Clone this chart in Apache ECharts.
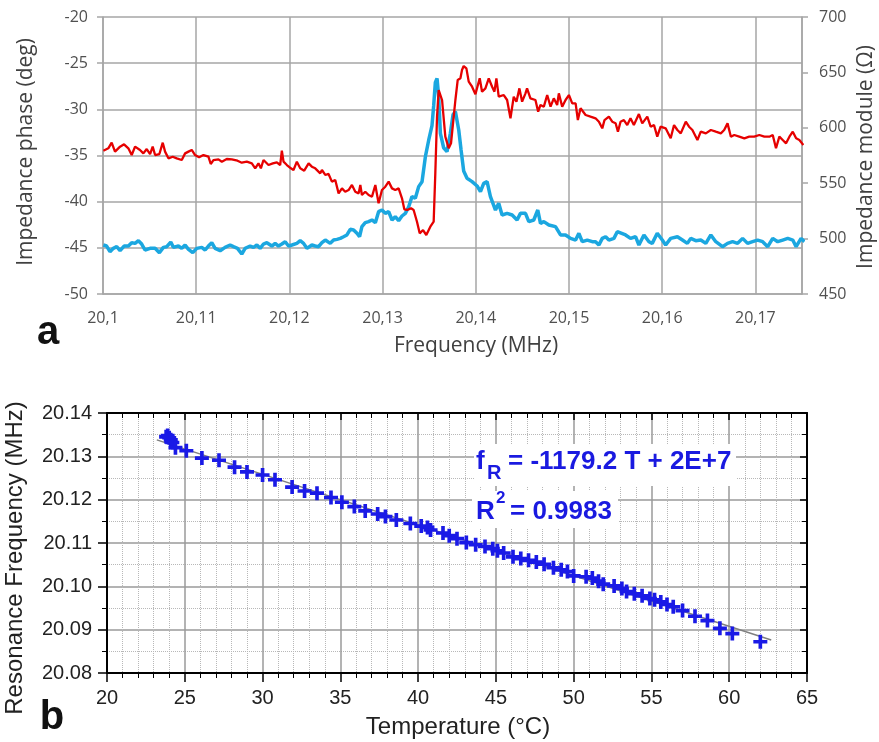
<!DOCTYPE html>
<html><head><meta charset="utf-8">
<script src="https://cdn.jsdelivr.net/npm/echarts@6/dist/echarts.min.js"></script>
<style>html,body{margin:0;padding:0;background:#fff}#c{width:879px;height:742px}</style>
</head><body><div id="c"></div>
<script>
// ---- Panel a: impedance phase (red, left axis) ----
const redFreq = [20.10004,20.10057,20.10093,20.10129,20.10183,20.10226,20.10272,20.10308,20.10344,20.10397,20.10433,20.10469,20.10505,20.10533,20.10559,20.10605,20.10641,20.10666,20.10702,20.10748,20.10791,20.10845,20.10881,20.10917,20.10952,20.10988,20.11031,20.11078,20.11131,20.11156,20.11185,20.11239,20.11275,20.11328,20.11382,20.11443,20.11489,20.11543,20.11597,20.11633,20.11668,20.11694,20.11722,20.11776,20.11822,20.11865,20.11901,20.11919,20.11937,20.11973,20.12016,20.12044,20.12080,20.12116,20.12159,20.12206,20.12241,20.12277,20.12331,20.12349,20.12385,20.12420,20.12456,20.12492,20.12528,20.12564,20.12599,20.12635,20.12671,20.12707,20.12743,20.12761,20.12778,20.12814,20.12850,20.12886,20.12922,20.12957,20.12993,20.13029,20.13065,20.13101,20.13136,20.13172,20.13208,20.13233,20.13262,20.13305,20.13333,20.13369,20.13398,20.13434,20.13469,20.13512,20.13548,20.13566,20.13584,20.13602,20.13620,20.13638,20.13673,20.13709,20.13734,20.13763,20.13781,20.13806,20.13835,20.13852,20.13870,20.13899,20.13924,20.13960,20.13996,20.14042,20.14067,20.14103,20.14139,20.14175,20.14200,20.14221,20.14246,20.14300,20.14336,20.14372,20.14407,20.14436,20.14468,20.14497,20.14533,20.14550,20.14586,20.14640,20.14669,20.14694,20.14730,20.14766,20.14802,20.14837,20.14873,20.14891,20.14927,20.14963,20.14999,20.15035,20.15071,20.15095,20.15124,20.15178,20.15231,20.15285,20.15321,20.15357,20.15381,20.15428,20.15464,20.15500,20.15525,20.15553,20.15589,20.15625,20.15660,20.15696,20.15750,20.15786,20.15840,20.15876,20.15912,20.15947,20.15983,20.16037,20.16091,20.16127,20.16163,20.16199,20.16253,20.16288,20.16324,20.16378,20.16414,20.16468,20.16522,20.16575,20.16629,20.16665,20.16701,20.16737,20.16773,20.16827,20.16881,20.16934,20.16988,20.17042,20.17096,20.17150,20.17186,20.17221,20.17257,20.17293,20.17329,20.17365,20.17401,20.17437,20.17472,20.17515];
const redPhase = [-34.48,-34.22,-33.61,-34.58,-34.04,-33.79,-34.22,-34.95,-34.04,-34.40,-34.77,-34.30,-34.84,-34.04,-34.95,-34.84,-33.61,-34.58,-35.31,-35.13,-35.31,-35.49,-34.77,-34.58,-34.40,-34.95,-35.20,-34.95,-35.13,-35.92,-35.49,-35.42,-35.67,-35.38,-35.42,-35.56,-35.78,-35.67,-35.85,-36.39,-35.85,-36.39,-35.49,-36.03,-35.85,-35.74,-36.03,-34.48,-35.67,-36.03,-36.39,-36.57,-35.67,-36.39,-36.64,-35.85,-36.21,-36.39,-36.93,-36.57,-37.11,-37.00,-37.83,-37.65,-39.10,-38.56,-38.92,-38.74,-38.19,-38.92,-39.10,-38.19,-39.28,-38.92,-39.28,-39.46,-38.19,-40.18,-38.74,-38.38,-37.83,-38.56,-38.74,-38.56,-39.64,-40.83,-40.90,-40.72,-40.90,-42.17,-43.43,-43.07,-43.61,-42.71,-42.17,-36.80,-30.80,-27.91,-27.73,-28.99,-32.96,-34.22,-33.68,-30.79,-28.99,-26.82,-26.64,-25.74,-25.31,-25.56,-27.00,-27.55,-28.36,-26.64,-28.09,-27.73,-26.64,-27.55,-28.09,-26.64,-28.63,-28.45,-28.99,-30.97,-28.63,-29.17,-27.73,-29.17,-28.27,-27.73,-28.81,-28.99,-30.25,-29.53,-29.71,-28.45,-29.71,-28.81,-29.53,-28.27,-29.71,-28.99,-28.45,-29.35,-29.35,-31.16,-29.89,-30.61,-30.79,-30.97,-31.34,-32.06,-31.16,-30.79,-31.34,-31.50,-32.42,-31.34,-31.16,-31.70,-30.97,-31.70,-30.51,-31.52,-30.79,-31.88,-31.70,-32.96,-31.88,-32.06,-33.14,-31.70,-32.24,-32.60,-31.34,-31.88,-32.24,-33.32,-32.42,-32.60,-32.24,-32.42,-32.60,-32.24,-31.52,-32.96,-32.78,-32.96,-33.14,-32.96,-32.96,-32.78,-32.96,-32.96,-32.78,-34.22,-32.96,-33.32,-33.68,-32.96,-32.42,-33.14,-33.32,-33.86];

// ---- Panel a: impedance module (blue, right axis) ----
const blueFreq = [20.10004,20.10039,20.10075,20.10111,20.10147,20.10183,20.10226,20.10272,20.10308,20.10344,20.10380,20.10415,20.10451,20.10505,20.10559,20.10605,20.10648,20.10684,20.10727,20.10755,20.10809,20.10845,20.10881,20.10917,20.10963,20.11006,20.11060,20.11096,20.11131,20.11167,20.11203,20.11257,20.11310,20.11364,20.11400,20.11443,20.11489,20.11525,20.11579,20.11615,20.11651,20.11686,20.11722,20.11758,20.11812,20.11847,20.11883,20.11919,20.11955,20.11991,20.12027,20.12080,20.12116,20.12152,20.12188,20.12241,20.12277,20.12313,20.12349,20.12385,20.12438,20.12474,20.12510,20.12546,20.12581,20.12617,20.12653,20.12689,20.12725,20.12753,20.12778,20.12814,20.12850,20.12886,20.12922,20.12957,20.12993,20.13029,20.13065,20.13101,20.13136,20.13172,20.13208,20.13244,20.13280,20.13315,20.13351,20.13387,20.13423,20.13459,20.13495,20.13530,20.13548,20.13566,20.13584,20.13602,20.13620,20.13655,20.13691,20.13727,20.13756,20.13781,20.13817,20.13842,20.13870,20.13906,20.13960,20.14014,20.14050,20.14085,20.14121,20.14157,20.14211,20.14246,20.14282,20.14336,20.14390,20.14443,20.14479,20.14533,20.14569,20.14622,20.14665,20.14694,20.14730,20.14784,20.14855,20.14909,20.14963,20.15017,20.15071,20.15106,20.15142,20.15196,20.15250,20.15285,20.15321,20.15357,20.15393,20.15428,20.15482,20.15518,20.15607,20.15660,20.15714,20.15750,20.15804,20.15858,20.15893,20.15947,20.16001,20.16037,20.16091,20.16163,20.16217,20.16270,20.16306,20.16360,20.16414,20.16468,20.16522,20.16575,20.16647,20.16701,20.16755,20.16809,20.16863,20.16916,20.16970,20.17024,20.17078,20.17132,20.17186,20.17239,20.17293,20.17347,20.17401,20.17437,20.17490,20.17526];
const blueModule = [494.2,493.3,488.2,491.2,492.7,489.1,493.3,493.3,496.3,495.7,498.1,495.1,489.7,491.2,491.2,487.3,492.1,492.7,496.9,492.1,493.3,491.2,494.2,490.3,487.3,491.2,492.1,489.7,493.3,496.3,491.2,489.1,492.1,494.2,492.7,491.2,486.1,491.2,493.3,492.1,494.2,491.2,495.1,496.3,493.3,495.7,493.3,495.1,497.2,493.3,494.2,495.7,498.1,495.7,491.2,494.2,493.3,492.7,496.3,498.7,495.7,498.7,499.3,500.2,501.7,503.3,508.4,507.8,504.8,501.7,510.8,514.4,515.3,516.8,514.4,524.3,525.8,522.8,524.3,516.8,519.8,516.2,520.4,522.8,528.8,537.9,536.4,546.9,551.4,573.9,589.0,602.0,620.0,641.0,644.6,628.0,595.0,582.0,578.5,595.0,612.0,614.6,598.0,580.0,561.0,554.4,551.4,547.5,542.4,549.9,551.4,537.9,525.8,531.9,521.3,522.8,521.3,516.8,522.8,522.8,515.3,516.8,525.8,513.8,515.3,512.3,510.8,503.3,503.3,500.2,498.7,504.8,497.2,498.7,497.2,497.2,494.2,500.2,501.7,498.7,500.2,506.2,503.3,500.2,501.7,494.2,503.3,497.2,495.7,504.8,498.7,494.2,500.2,501.7,498.7,495.7,500.2,498.1,498.7,495.7,503.3,497.2,492.7,495.7,497.2,495.7,500.2,495.7,497.2,498.7,497.2,492.7,500.2,497.2,498.7,500.2,498.7,492.7,500.2,497.2];

// ---- Panel b: resonance frequency vs temperature ----
const tempC = [23.8,23.9,24.0,24.1,24.2,24.4,25.1,26.1,27.2,28.2,29.0,30.0,30.8,31.9,32.7,33.5,34.4,35.1,35.9,36.6,37.4,37.9,38.6,39.5,40.2,40.6,40.8,41.6,42.0,42.5,43.1,43.7,44.3,44.8,45.1,45.5,46.1,46.6,47.1,47.6,48.1,48.7,49.2,49.6,50.0,50.8,51.2,51.6,51.9,52.6,53.1,53.4,53.9,54.4,54.9,55.2,55.6,56.0,56.4,57.0,57.8,58.6,59.4,60.2,62.0];
const resFreq = [20.1345,20.1348,20.1343,20.1338,20.1332,20.1320,20.1313,20.1296,20.1291,20.1275,20.1264,20.1257,20.1246,20.1229,20.1220,20.1215,20.1205,20.1194,20.1184,20.1174,20.1167,20.1161,20.1153,20.1145,20.1139,20.1136,20.1130,20.1123,20.1117,20.1110,20.1101,20.1096,20.1092,20.1087,20.1082,20.1077,20.1068,20.1064,20.1060,20.1056,20.1051,20.1043,20.1038,20.1034,20.1024,20.1022,20.1019,20.1012,20.1005,20.1001,20.0995,20.0988,20.0983,20.0978,20.0972,20.0969,20.0964,20.0958,20.0953,20.0944,20.0931,20.0921,20.0903,20.0891,20.0872];
const fitTemp = [23.2, 62.7];
const fitFreq = [20.1338, 20.0876];

const FT = "'Open Sans', sans-serif";
const FB = "'Liberation Sans', Arial, sans-serif";
const GC = '#a6a6a6';
const BLK = '#000';
const zip = (a, b) => a.map((v, i) => [v, b[i]]);

const chart = echarts.init(document.getElementById('c'), null, {renderer: 'canvas'});
const topLabelFmt = v => {
  const k = v / 0.01;
  if (Math.abs(k - Math.round(k)) > 1e-6) return '';
  return Number(v.toFixed(2)).toString().replace('.', ',');
};
const plus = 'path://M3.7,0H6.3V3.7H10V6.3H6.3V10H3.7V6.3H0V3.7H3.7Z';

const option = {
  animation: false,
  backgroundColor: '#fff',
  grid: [
    {left: 103, top: 17, width: 699, height: 277},
    {left: 107, top: 413, width: 700, height: 260}
  ],
  xAxis: [
    {gridIndex: 0, type: 'value', min: 20.1, max: 20.175, interval: 0.01,
     axisLine: {show: true, lineStyle: {color: GC, width: 1.5}},
     axisTick: {show: false},
     splitLine: {show: true, lineStyle: {color: GC, width: 1.5}},
     axisLabel: {formatter: topLabelFmt, showMaxLabel: false, color: '#505050', fontFamily: FT, fontSize: 16, margin: 16}},
    {gridIndex: 1, type: 'value', min: 20, max: 65, interval: 5,
     axisLine: {show: true, lineStyle: {color: BLK, width: 2}},
     axisTick: {show: true, inside: false, length: 9, lineStyle: {color: BLK, width: 1.5}},
     minorTick: {show: true, splitNumber: 5, length: 5, lineStyle: {color: BLK, width: 1}},
     splitLine: {show: true, lineStyle: {color: '#9a9a9a', width: 1.5}},
     minorSplitLine: {show: true, lineStyle: {color: '#b8b8b8', width: 1, type: 'dotted'}},
     axisLabel: {color: '#222', fontFamily: FB, fontSize: 20, margin: 15}},
    {gridIndex: 1, type: 'value', position: 'top', min: 20, max: 65, interval: 5,
     axisLine: {show: true, lineStyle: {color: BLK, width: 2}},
     axisTick: {show: true, inside: true, length: 7, lineStyle: {color: BLK, width: 1.5}},
     minorTick: {show: true, splitNumber: 5, length: 5, lineStyle: {color: BLK, width: 1}},
     splitLine: {show: false}, axisLabel: {show: false}}
  ],
  yAxis: [
    {gridIndex: 0, type: 'value', min: -50, max: -20, interval: 5,
     axisLine: {show: true, lineStyle: {color: GC, width: 1.5}},
     axisTick: {show: true, length: 6, lineStyle: {color: GC, width: 1.5}},
     splitLine: {show: true, lineStyle: {color: GC, width: 1.5}},
     axisLabel: {color: '#505050', fontFamily: FT, fontSize: 16, margin: 15}},
    {gridIndex: 0, type: 'value', position: 'right', min: 450, max: 700, interval: 50,
     axisLine: {show: true, lineStyle: {color: GC, width: 1.5}},
     axisTick: {show: true, length: 6, lineStyle: {color: GC, width: 1.5}},
     splitLine: {show: false},
     axisLabel: {color: '#505050', fontFamily: FT, fontSize: 16, margin: 17}},
    {gridIndex: 1, type: 'value', min: 20.08, max: 20.14, interval: 0.01,
     axisLine: {show: true, lineStyle: {color: BLK, width: 2}},
     axisTick: {show: true, inside: false, length: 9, lineStyle: {color: BLK, width: 1.5}},
     minorTick: {show: true, splitNumber: 2, length: 5, lineStyle: {color: BLK, width: 1}},
     splitLine: {show: true, lineStyle: {color: '#9a9a9a', width: 1.5}},
     minorSplitLine: {show: true, lineStyle: {color: '#b8b8b8', width: 1, type: 'dotted'}},
     axisLabel: {formatter: v => v.toFixed(2), color: '#222', fontFamily: FB, fontSize: 20, margin: 15}},
    {gridIndex: 1, type: 'value', position: 'right', min: 20.08, max: 20.14, interval: 0.01,
     axisLine: {show: true, lineStyle: {color: BLK, width: 2}},
     axisTick: {show: true, inside: true, length: 7, lineStyle: {color: BLK, width: 1.5}},
     minorTick: {show: true, splitNumber: 2, length: 5, lineStyle: {color: BLK, width: 1}},
     splitLine: {show: false}, axisLabel: {show: false}}
  ],
  series: [
    {type: 'line', xAxisIndex: 0, yAxisIndex: 1, data: zip(blueFreq, blueModule),
     showSymbol: false, lineStyle: {color: '#1ba7e0', width: 3.5}, z: 3},
    {type: 'line', xAxisIndex: 0, yAxisIndex: 0, data: zip(redFreq, redPhase),
     showSymbol: false, lineStyle: {color: '#e60000', width: 2.3}, z: 4},
    {type: 'line', xAxisIndex: 1, yAxisIndex: 2, data: zip(fitTemp, fitFreq),
     showSymbol: false, lineStyle: {color: '#808080', width: 1.5}, z: 3},
    {type: 'scatter', xAxisIndex: 1, yAxisIndex: 2, data: zip(tempC, resFreq),
     symbol: plus, symbolSize: 14, itemStyle: {color: '#1a1ae6', opacity: 1}, z: 4}
  ],
  graphic: [
    {type: 'text', x: 26, y: 152, rotation: Math.PI / 2, z: 100,
     style: {text: 'Impedance phase (deg)', fontFamily: FT, fontSize: 21, fill: '#404040', align: 'center', verticalAlign: 'middle'}},
    {type: 'text', x: 866, y: 157, rotation: Math.PI / 2, z: 100,
     style: {text: 'Impedance module (Ω)', fontFamily: FT, fontSize: 21, fill: '#404040', align: 'center', verticalAlign: 'middle'}},
    {type: 'text', x: 476, y: 346, z: 100,
     style: {text: 'Frequency (MHz)', fontFamily: FT, fontSize: 21, fill: '#404040', align: 'center', verticalAlign: 'middle'}},
    {type: 'text', x: 48, y: 333, z: 100,
     style: {text: 'a', fontFamily: FB, fontSize: 40, fontWeight: 'bold', fill: '#111', align: 'center', verticalAlign: 'middle'}},
    {type: 'text', x: 15, y: 558, rotation: Math.PI / 2, z: 100,
     style: {text: 'Resonance Frequency (MHz)', fontFamily: FB, fontSize: 24, fill: '#222', align: 'center', verticalAlign: 'middle'}},
    {type: 'text', x: 458, y: 727, z: 100,
     style: {text: 'Temperature (°C)', fontFamily: FB, fontSize: 24, fill: '#222', align: 'center', verticalAlign: 'middle'}},
    {type: 'text', x: 52, y: 718, z: 100,
     style: {text: 'b', fontFamily: FB, fontSize: 40, fontWeight: 'bold', fill: '#111', align: 'center', verticalAlign: 'middle'}},
    {type: 'rect', shape: {x: 474, y: 444, width: 262, height: 42}, z: 90, style: {fill: '#fff'}},
    {type: 'rect', shape: {x: 472, y: 491, width: 146, height: 37}, z: 90, style: {fill: '#fff'}},
    {type: 'text', x: 476, y: 462, z: 100,
     style: {text: 'f', fontFamily: FB, fontSize: 26, fontWeight: 'bold', fill: '#1a1ae0', align: 'left', verticalAlign: 'middle'}},
    {type: 'text', x: 487, y: 473, z: 100,
     style: {text: 'R', fontFamily: FB, fontSize: 20, fontWeight: 'bold', fill: '#1a1ae0', align: 'left', verticalAlign: 'middle'}},
    {type: 'text', x: 508, y: 462, z: 100,
     style: {text: '= -1179.2 T + 2E+7', fontFamily: FB, fontSize: 26, fontWeight: 'bold', fill: '#1a1ae0', align: 'left', verticalAlign: 'middle'}},
    {type: 'text', x: 476, y: 512, z: 100,
     style: {text: 'R', fontFamily: FB, fontSize: 26, fontWeight: 'bold', fill: '#1a1ae0', align: 'left', verticalAlign: 'middle'}},
    {type: 'text', x: 496, y: 498, z: 100,
     style: {text: '2', fontFamily: FB, fontSize: 17, fontWeight: 'bold', fill: '#1a1ae0', align: 'left', verticalAlign: 'middle'}},
    {type: 'text', x: 510, y: 512, z: 100,
     style: {text: '= 0.9983', fontFamily: FB, fontSize: 26, fontWeight: 'bold', fill: '#1a1ae0', align: 'left', verticalAlign: 'middle'}}
  ]
};
chart.setOption(option);
</script>
</body></html>
